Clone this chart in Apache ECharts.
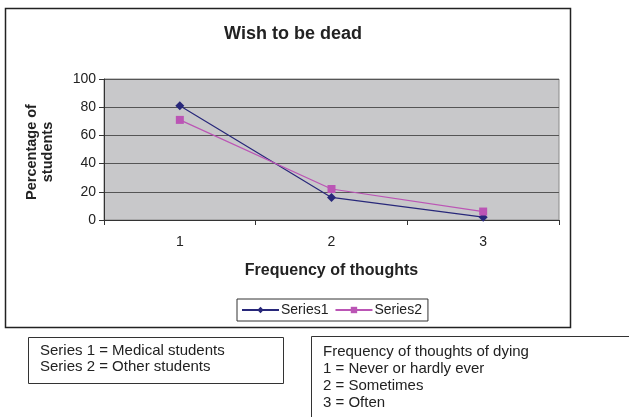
<!DOCTYPE html>
<html>
<head>
<meta charset="utf-8">
<script src="https://cdn.jsdelivr.net/npm/echarts@6/dist/echarts.min.js"></script>
<style>
html,body{margin:0;padding:0;background:#fff;}
#chart{width:629px;height:417px;}
</style>
</head>
<body>
<div id="chart"></div>
<script>
var categories = ['1', '2', '3'];
var seriesNames = ['Series1', 'Series2'];
var series1 = [81, 16, 2];
var series2 = [71, 22, 6];
var yTicks = {min: 0, max: 100, interval: 20};
var titleText = 'Wish to be dead';
var yTitle = 'Percentage of\nstudents';
var xTitle = 'Frequency of thoughts';
var noteLeft = ['Series 1 = Medical students', 'Series 2 = Other students'];
var noteRight = ['Frequency of thoughts of dying', '1 = Never or hardly ever', '2 = Sometimes', '3 = Often'];

var FONT = '"Liberation Sans", Arial, sans-serif';
var chart = echarts.init(document.getElementById('chart'), null, {renderer: 'canvas'});

var graphics = [
  {type: 'rect', z: -10, shape: {x: 5.5, y: 8.5, width: 565, height: 319}, style: {fill: '#fff', stroke: '#222', lineWidth: 1.5}},
  {type: 'rect', z: -10, shape: {x: 28.5, y: 337.5, width: 255, height: 46}, style: {fill: '#fff', stroke: '#333', lineWidth: 1}},
  {type: 'rect', z: -10, shape: {x: 311.5, y: 336.5, width: 330, height: 100}, style: {fill: '#fff', stroke: '#333', lineWidth: 1}},
  {type: 'text', z: 5, x: 40, y: 152, rotation: Math.PI / 2, style: {text: yTitle, font: 'bold 14.5px ' + FONT, fill: '#222', textAlign: 'center', textVerticalAlign: 'middle', lineHeight: 16}}
];
noteLeft.forEach(function (t, i) {
  graphics.push({type: 'text', z: 5, x: 40, y: 351 + i * 16, style: {text: t, font: '15px ' + FONT, fill: '#222', textVerticalAlign: 'middle'}});
});
noteRight.forEach(function (t, i) {
  graphics.push({type: 'text', z: 5, x: 323, y: 352 + i * 17, style: {text: t, font: '15px ' + FONT, fill: '#222', textVerticalAlign: 'middle'}});
});

chart.setOption({
  animation: false,
  backgroundColor: '#fff',
  title: {text: titleText, left: 288, top: 20, textAlign: 'center',
    textStyle: {fontFamily: FONT, fontSize: 18, fontWeight: 'bold', color: '#222'}},
  grid: {left: 104, top: 79, right: 70, bottom: 197, show: true, backgroundColor: '#C8C8CA', borderColor: '#8A8A8A', borderWidth: 1},
  legend: {
    data: seriesNames, left: 237, top: 299, orient: 'horizontal',
    borderColor: '#333', borderWidth: 1, padding: [4, 6, 4, 4],
    itemWidth: 37, itemHeight: 8, itemGap: 6,
    textStyle: {fontFamily: FONT, fontSize: 14, color: '#222', padding: [0, 0, 0, -3]},
    backgroundColor: '#fff'
  },
  xAxis: {
    type: 'category', data: categories, boundaryGap: true,
    name: xTitle, nameLocation: 'middle', nameGap: 43,
    nameTextStyle: {fontFamily: FONT, fontSize: 16, fontWeight: 'bold', color: '#222'},
    axisLine: {lineStyle: {color: '#333', width: 1}},
    axisTick: {show: true, length: 5, inside: false, lineStyle: {color: '#333'}},
    axisLabel: {fontFamily: FONT, fontSize: 14, color: '#222', margin: 15},
    splitLine: {show: false}
  },
  yAxis: {
    type: 'value', min: yTicks.min, max: yTicks.max, interval: yTicks.interval,
    axisLine: {show: true, lineStyle: {color: '#333', width: 1}},
    axisTick: {show: true, length: 5, lineStyle: {color: '#333'}},
    axisLabel: {fontFamily: FONT, fontSize: 14, color: '#222', margin: 8},
    splitLine: {show: true, lineStyle: {color: '#555', width: 1.2}}
  },
  series: [
    {name: seriesNames[0], type: 'line', data: series1, symbol: 'diamond', symbolSize: 9,
      itemStyle: {color: '#28287A'}, lineStyle: {color: '#28287A', width: 1.2}, z: 3},
    {name: seriesNames[1], type: 'line', data: series2, symbol: 'rect', symbolSize: 8,
      itemStyle: {color: '#BB55B5'}, lineStyle: {color: '#BB55B5', width: 1.2}, z: 3}
  ],
  graphic: graphics
});
</script>
</body>
</html>
